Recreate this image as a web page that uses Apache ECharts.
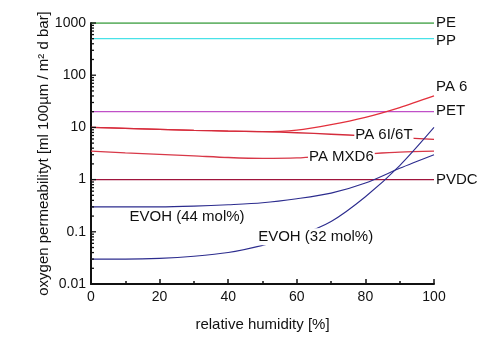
<!DOCTYPE html>
<html><head><meta charset="utf-8">
<script src="https://cdn.jsdelivr.net/npm/echarts@6/dist/echarts.min.js"></script>
<style>html,body{margin:0;padding:0;background:#fff}#c{width:500px;height:346px}</style>
</head><body><div id="c"></div>
<script>
const humidity = [0,10,20,30,40,50,60,70,80,90,100];
const PE = [1000,1000,1000,1000,1000,1000,1000,1000,1000,1000,1000];
const PP = [500,500,500,500,500,500,500,500,500,500,500];
const PET = [20,20,20,20,20,20,20,20,20,20,20];
const PA6 = [10,9.6,9.2,8.8,8.5,8.3,8.9,11.3,15.6,24,40];
const PA6I6T = [10,9.6,9.2,8.8,8.5,8.3,7.9,7.4,6.9,6.4,5.9];
const PAMXD6 = [3.5,3.25,3.05,2.85,2.65,2.55,2.6,2.85,3.1,3.35,3.5];
const PVDC = [1,1,1,1,1,1,1,1,1,1,1];
const EVOH44 = [0.30,0.30,0.30,0.31,0.33,0.36,0.43,0.55,0.86,1.65,3.0];
const EVOH32 = [0.030,0.030,0.031,0.034,0.040,0.055,0.083,0.158,0.47,1.86,10];
const yTicks = [0.01,0.1,1,10,100,1000];
const xTicks = [0,20,40,60,80,100];
// inline label anchors [humidity, permeability]
const inlineLabels = {
  'PA 6I/6T': [85.4, 7.3],
  'PA MXD6': [73, 2.75],
  'EVOH (44 mol%)': [28, 0.19],
  'EVOH (32 mol%)': [65.5, 0.08]
};
const minorVals = [];
for (let e = -2; e < 3; e++) for (let k = 2; k <= 9; k++) minorVals.push(+(k * Math.pow(10, e)).toPrecision(3));

const FONT = 'Liberation Sans, Arial, sans-serif';
function pts(arr){ return humidity.map((h,i)=>[h, arr[i]]); }
function mk(name, arr, color, opts){
  opts = opts || {};
  const s = {
    name, type:'line', data: pts(arr), showSymbol:false, symbol:'none',
    smooth: opts.smooth ? 0.3 : false,
    lineStyle:{color, width: opts.width || 1.3},
    itemStyle:{color}, z: 3, silent:true
  };
  if (opts.end) {
    s.endLabel = {show:true, formatter:name, color:'#111', fontFamily:FONT, fontSize:15,
      distance:2, offset: opts.endOffset || [0,0]};
  }
  if (inlineLabels[name]) {
    s.markPoint = {symbol:'rect', symbolSize:0, silent:true, z:6,
      data:[{coord: inlineLabels[name], label:{show:true, position:'inside', formatter:name,
        color:'#111', fontFamily:FONT, fontSize:15, backgroundColor:'#fff', padding:[1,1]}}]};
  }
  return s;
}
const tickData = yTicks.map(v=>[0, v, 5]).concat(minorVals.map(v=>[0, v, 3]));
const chart = echarts.init(document.getElementById('c'), null, {renderer:'canvas'});
chart.setOption({
  animation:false,
  backgroundColor:'#fff',
  grid:{left:91, right:66, top:23, bottom:62, outerBoundsMode:'none', containLabel:false},
  xAxis:{type:'value', min:0, max:100, interval:20,
    name:'relative humidity [%]', nameLocation:'middle', nameGap:33, nameMoveOverlap:false,
    nameTextStyle:{fontFamily:FONT, fontSize:15, color:'#111'},
    axisLine:{lineStyle:{color:'#111', width:2}},
    axisTick:{inside:true, length:5, lineStyle:{color:'#111', width:1.5}},
    minorTick:{show:true, splitNumber:2, length:3, lineStyle:{color:'#111', width:1.5}},
    axisLabel:{fontFamily:FONT, fontSize:14, color:'#111', margin:6},
    splitLine:{show:false}},
  yAxis:{type:'log', logBase:10, min:0.01, max:1000,
    name:'oxygen permeabilityt [ml 100µm / m² d bar]', nameLocation:'middle', nameGap:40, nameMoveOverlap:false,
    nameTextStyle:{fontFamily:FONT, fontSize:15, color:'#111'},
    axisLine:{show:true, lineStyle:{color:'#111', width:2}},
    axisTick:{show:false},
    axisLabel:{fontFamily:FONT, fontSize:14, color:'#111', margin:5, customValues: yTicks,
      formatter: v => String(+(+v).toPrecision(3))},
    splitLine:{show:false}},
  series:[
    {type:'custom', silent:true, clip:false, z:4, data: tickData, encode:{x:0, y:1},
     renderItem:(params, api)=>{
       const p = api.coord([api.value(0), api.value(1)]);
       const len = api.value(2);
       return {type:'line', shape:{x1:p[0], y1:p[1], x2:p[0]+len, y2:p[1]},
         style:{stroke:'#111', lineWidth:1.3}};
     }},
    mk('PE', PE, '#3c9e40', {end:true}),
    mk('PP', PP, '#48e2e8', {end:true, endOffset:[0,2]}),
    mk('PET', PET, '#c050c8', {end:true, endOffset:[0,-1]}),
    mk('PA 6', PA6, '#e3303c', {smooth:true, end:true, endOffset:[0,-9]}),
    mk('PA 6I/6T', PA6I6T, '#d42c3c', {smooth:true}),
    mk('PA MXD6', PAMXD6, '#d83848', {smooth:true}),
    mk('PVDC', PVDC, '#a0143c', {end:true}),
    mk('EVOH (44 mol%)', EVOH44, '#2c2c8e', {smooth:true, width:1.1}),
    mk('EVOH (32 mol%)', EVOH32, '#2c2c8e', {smooth:true, width:1.1})
  ]
});
</script></body></html>
